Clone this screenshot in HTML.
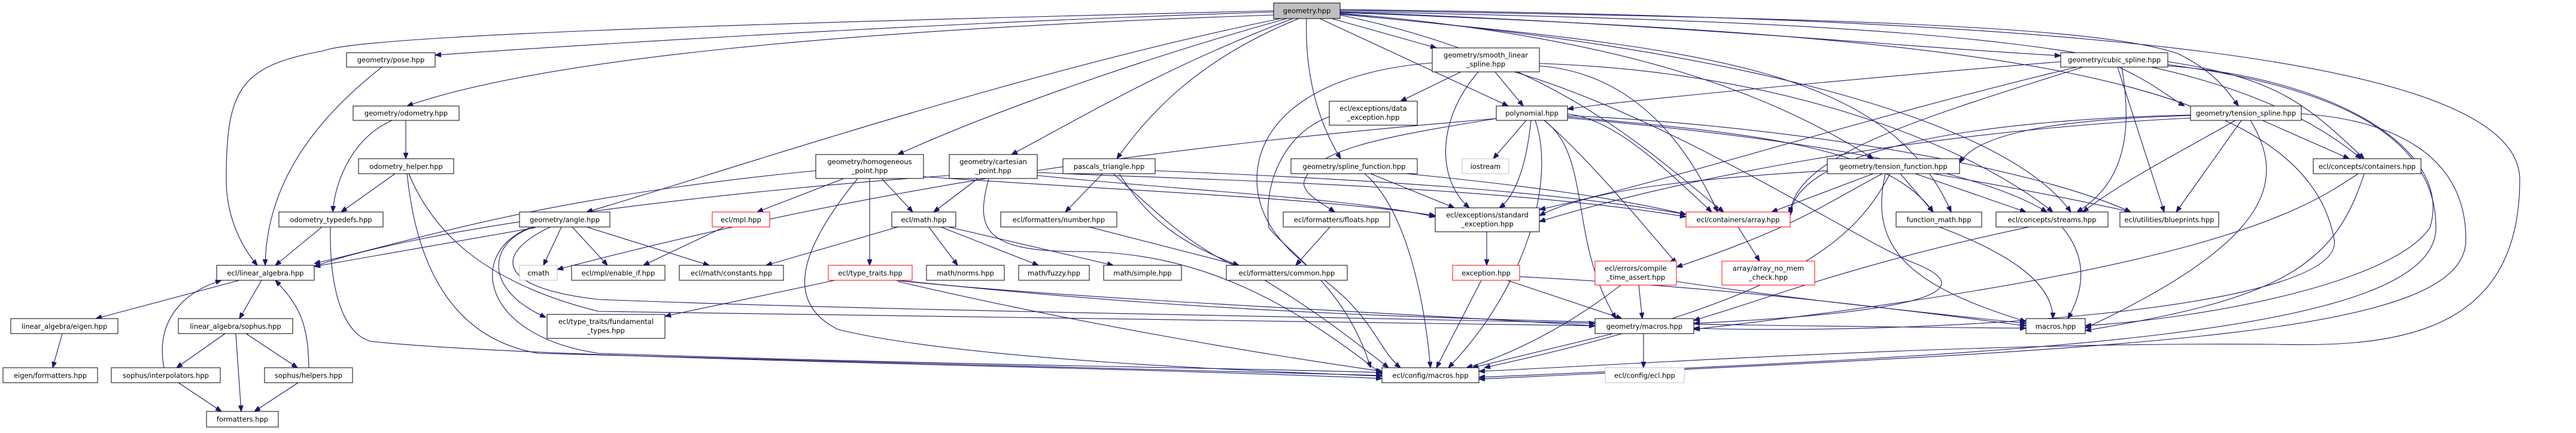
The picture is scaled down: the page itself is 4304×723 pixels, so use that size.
<!DOCTYPE html>
<html><head><meta charset="utf-8"><style>
html,body{margin:0;padding:0;background:#fff}
svg{display:block}
text{font-family:"DejaVu Sans","Liberation Sans",sans-serif;font-size:11.5px;fill:#000;text-anchor:middle}
.e{fill:none;stroke:#191970;stroke-width:1.1;marker-end:url(#a)}
.n{fill:#fff;stroke:#000;stroke-width:1}
.r{fill:#fff;stroke:#ff0000;stroke-width:1}
.g{fill:#fff;stroke:#bfbfbf;stroke-width:1}
</style></head><body>
<svg width="4304" height="723" viewBox="0 0 4304 723" xmlns="http://www.w3.org/2000/svg">
<defs><marker id="a" markerUnits="userSpaceOnUse" markerWidth="10" markerHeight="8" refX="10" refY="4" orient="auto"><path d="M0,0 L10,4 L0,8 z" fill="#191970" stroke="#191970"/></marker></defs>
<g>
<!-- geometry.hpp edges -->
<path class="e" d="M2128,20 C1500,40 900,80 727,92"/>
<path class="e" d="M2128,25 C1400,50 900,100 680,177"/>
<path class="e" d="M2128,18 C1200,40 600,60 540,85 C400,110 378,150 378,300 C378,370 410,420 430,443"/>
<path class="e" d="M2140,31 C1700,120 1200,290 980,354"/>
<path class="e" d="M2150,31 C1900,100 1650,190 1500,258"/>
<path class="e" d="M2160,31 C1950,110 1800,200 1690,258"/>
<path class="e" d="M2170,31 C2000,100 1920,190 1866,265"/>
<path class="e" d="M2183,31 C2180,120 2200,200 2240,265"/>
<path class="e" d="M2225,31 L2400,80"/>
<path class="e" d="M2205,31 L2520,177"/>
<path class="e" d="M2239,22 C2700,60 2950,150 3130,265"/>
<path class="e" d="M2239,20 C2800,40 3200,80 3443,93"/>
<path class="e" d="M2239,17 C3000,30 3500,40 3640,90 C3700,120 3720,150 3740,177"/>
<path class="e" d="M2239,25 C2600,100 2750,250 2880,354"/>
<path class="e" d="M2239,23 C2800,80 3150,100 3260,354"/>
<path class="e" d="M2239,24 C2900,80 3350,200 3460,354"/>
<path class="e" d="M2239,19 C3200,40 3700,60 3945,265"/>
<path class="e" d="M2239,16 C3500,30 4210,100 4210,300 C4210,560 4000,580 3800,575 C3300,570 2700,610 2471,620"/>
<path class="e" d="M2239,21 C3300,60 3850,120 3900,400 C3920,520 3200,560 2830,548"/>
<!-- left cluster -->
<path class="e" d="M638,112 C500,220 445,330 443,443"/>
<path class="e" d="M678,201 L678,265"/>
<path class="e" d="M655,201 C590,230 560,300 556,354"/>
<path class="e" d="M660,290 L570,354"/>
<path class="e" d="M680,290 C690,380 720,560 900,590 L2309,627"/>
<path class="e" d="M683,290 C720,380 800,470 1000,520 L2665,544"/>
<path class="e" d="M538,379 L460,443"/>
<path class="e" d="M552,379 C550,500 580,560 620,570 C900,600 1800,610 2309,632"/>
<path class="e" d="M400,468 L160,532"/>
<path class="e" d="M437,468 L400,532"/>
<path class="e" d="M104,557 L88,614"/>
<path class="e" d="M376,557 L295,614"/>
<path class="e" d="M394,557 L403,687"/>
<path class="e" d="M411,557 L497,614"/>
<path class="e" d="M298,639 L370,687"/>
<path class="e" d="M498,639 L425,687"/>
<path class="e" d="M274,614 C260,540 300,490 370,468"/>
<path class="e" d="M516,614 C515,540 500,510 460,468"/>
<!-- angle -->
<path class="e" d="M895,380 L525,445"/>
<path class="e" d="M938,379 L908,443"/>
<path class="e" d="M956,379 L1015,443"/>
<path class="e" d="M980,379 L1185,443"/>
<path class="e" d="M893,379 C820,400 800,480 912,530"/>
<path class="e" d="M920,379 C830,420 820,480 1000,500 C1500,520 2300,530 2665,540"/>
<path class="e" d="M886,380 C780,420 800,560 1000,590 C1600,610 2100,615 2309,622"/>
<!-- homogeneous -->
<path class="e" d="M1363,285 C900,330 700,400 525,440"/>
<path class="e" d="M1473,298 L1525,354"/>
<path class="e" d="M1453,298 L1453,443"/>
<path class="e" d="M1410,298 L1265,354"/>
<path class="e" d="M1543,295 C1900,320 2200,330 2398,360"/>
<path class="e" d="M1433,298 C1350,400 1300,500 1400,550 C1600,600 2100,620 2309,628"/>
<!-- cartesian -->
<path class="e" d="M1586,293 C1200,320 700,380 525,445"/>
<path class="e" d="M1634,298 L1560,354"/>
<path class="e" d="M1733,293 C2000,320 2250,330 2398,362"/>
<path class="e" d="M1652,298 C1630,380 1640,420 1800,420 C2000,420 2150,500 2309,625"/>
<path class="e" d="M1733,288 C2000,300 2500,310 2817,362"/>
<!-- pascals -->
<path class="e" d="M1842,290 L1780,354"/>
<path class="e" d="M1870,290 C1920,370 1980,410 2070,443"/>
<path class="e" d="M1930,285 C2300,300 2600,320 2817,358"/>
<path class="e" d="M1860,290 C1960,380 2000,420 2100,460 C2200,520 2250,560 2320,614"/>
<!-- ecl/math -->
<path class="e" d="M1500,379 L1280,443"/>
<path class="e" d="M1552,379 L1600,443"/>
<path class="e" d="M1572,379 L1735,443"/>
<path class="e" d="M1585,379 L1860,443"/>
<path class="e" d="M1210,379 L1075,443"/>
<path class="e" d="M1395,468 L1111,528"/>
<path class="e" d="M1495,468 C1800,500 2300,520 2665,544"/>
<path class="e" d="M1500,468 C2000,520 2400,540 3385,548"/>
<path class="e" d="M1500,470 C1800,540 2100,590 2309,620"/>
<path class="e" d="M1820,379 L2070,443"/>
<path class="e" d="M2222,379 L2165,443"/>
<!-- smooth linear -->
<path class="e" d="M2441,120 L2340,169"/>
<path class="e" d="M2498,120 L2545,177"/>
<path class="e" d="M2470,120 C2400,200 2400,300 2455,347"/>
<path class="e" d="M2530,120 C2800,200 3100,400 3200,440 C3300,480 3250,520 2830,540"/>
<path class="e" d="M2572,110 C2700,120 2800,200 2870,354"/>
<path class="e" d="M2572,106 C3000,120 3300,250 3430,354"/>
<path class="e" d="M2393,105 C2200,120 2100,200 2100,300 C2100,400 2200,450 2250,500 C2300,550 2310,590 2340,614"/>
<path class="e" d="M2221,195 C2150,220 2110,300 2120,380 C2150,420 2250,480 2290,614"/>
<!-- polynomial -->
<path class="e" d="M2550,201 L2495,265"/>
<path class="e" d="M2558,201 C2550,280 2530,330 2505,347"/>
<path class="e" d="M2565,201 C2600,300 2550,480 2420,614"/>
<path class="e" d="M2580,201 C2660,260 2620,400 2700,532"/>
<path class="e" d="M2500,198 C2300,230 2200,250 2180,300 C2170,320 2210,340 2230,354"/>
<path class="e" d="M2500,198 C2000,240 1500,300 931,450"/>
<path class="e" d="M2619,195 C2900,220 3150,240 3230,354"/>
<path class="e" d="M2619,190 C2700,200 2780,280 2860,354"/>
<path class="e" d="M2619,197 C3000,230 3300,280 3420,354"/>
<path class="e" d="M2619,193 C3000,210 3400,280 3560,354"/>
<path class="e" d="M2580,201 C2650,260 2750,380 2801,440"/>
<!-- spline function -->
<path class="e" d="M2290,290 L2430,347"/>
<path class="e" d="M2280,290 C2350,350 2380,500 2390,614"/>
<path class="e" d="M2350,290 C2550,310 2700,330 2817,358"/>
<path class="e" d="M2484,387 L2484,443"/>
<path class="e" d="M2475,468 L2400,614"/>
<path class="e" d="M2518,468 L2710,532"/>
<path class="e" d="M2539,462 C2900,480 3200,520 3385,544"/>
<path class="e" d="M2708,476 C2600,560 2500,600 2450,614"/>
<path class="e" d="M2738,476 L2744,532"/>
<path class="e" d="M2801,470 C3000,500 3200,520 3385,540"/>
<path class="e" d="M2746,557 L2746,614"/>
<path class="e" d="M2695,557 L2460,614"/>
<path class="e" d="M2904,379 L2940,436"/>
<!-- tension function -->
<path class="e" d="M3130,290 L2960,354"/>
<path class="e" d="M3175,290 L3230,354"/>
<path class="e" d="M3200,290 L3385,354"/>
<path class="e" d="M3230,290 C3400,320 3500,340 3560,354"/>
<path class="e" d="M3053,285 C2800,300 2650,320 2572,360"/>
<path class="e" d="M3145,290 C3050,340 3000,380 2801,446"/>
<path class="e" d="M3158,290 C3100,400 3000,500 2480,614"/>
<path class="e" d="M3150,290 C3120,420 3200,480 3385,537"/>
<path class="e" d="M3240,379 C3350,420 3430,470 3430,532"/>
<path class="e" d="M3445,379 C3480,420 3490,470 3455,532"/>
<path class="e" d="M3390,379 C3100,440 2950,500 2830,535"/>
<!-- cubic spline -->
<path class="e" d="M3443,103 C3000,140 2700,170 2619,182"/>
<path class="e" d="M3540,112 C3600,140 3620,160 3650,177"/>
<path class="e" d="M3622,103 C3800,130 3850,170 3950,265"/>
<path class="e" d="M3545,112 C3560,200 3560,300 3470,354"/>
<path class="e" d="M3538,112 L3616,354"/>
<path class="e" d="M3480,112 C3200,200 3000,260 2991,356"/>
<path class="e" d="M3470,112 C3100,200 2800,300 2572,350"/>
<path class="e" d="M3622,108 C3950,150 4070,250 4070,380 C4070,560 3400,590 2471,630"/>
<path class="e" d="M3622,110 C3900,130 4100,250 4060,380 C4000,470 3700,530 3484,544"/>
<!-- tension spline -->
<path class="e" d="M3780,201 L3925,265"/>
<path class="e" d="M3745,201 L3636,354"/>
<path class="e" d="M3735,201 C3650,250 3550,300 3480,354"/>
<path class="e" d="M3660,193 C3400,200 3300,230 3274,272"/>
<path class="e" d="M3660,197 C3200,220 2800,300 2572,370"/>
<path class="e" d="M3660,192 C3300,200 3000,250 2991,360"/>
<path class="e" d="M3760,201 C3820,300 3800,400 3484,548"/>
<path class="e" d="M3845,190 C4000,200 4120,260 4120,400 C4120,560 3600,580 2471,633"/>
<path class="e" d="M3940,290 C3850,350 3700,450 2830,550"/>
<path class="e" d="M3950,290 C3900,450 3800,500 3484,552"/>
</g>
<!-- nodes -->
<rect x="2128" y="5" width="111" height="26" fill="#bfbfbf" stroke="#000"/><text x="2183.5" y="22">geometry.hpp</text>
<rect class="n" x="579" y="88" width="148" height="24"/><text x="653" y="104">geometry/pose.hpp</text>
<rect class="n" x="590" y="177" width="177" height="24"/><text x="678.5" y="193">geometry/odometry.hpp</text>
<rect class="n" x="599" y="265" width="159" height="25"/><text x="678.5" y="282">odometry_helper.hpp</text>
<rect class="n" x="466" y="354" width="174" height="25"/><text x="553" y="371">odometry_typedefs.hpp</text>
<rect class="n" x="362" y="443" width="163" height="25"/><text x="443.5" y="460">ecl/linear_algebra.hpp</text>
<rect class="n" x="18" y="532" width="179" height="25"/><text x="107.5" y="549">linear_algebra/eigen.hpp</text>
<rect class="n" x="298" y="532" width="191" height="25"/><text x="393.5" y="549">linear_algebra/sophus.hpp</text>
<rect class="n" x="5" y="614" width="158" height="25"/><text x="84" y="631">eigen/formatters.hpp</text>
<rect class="n" x="186" y="614" width="182" height="25"/><text x="277" y="631">sophus/interpolators.hpp</text>
<rect class="n" x="442" y="614" width="147" height="25"/><text x="515.5" y="631">sophus/helpers.hpp</text>
<rect class="n" x="345" y="687" width="120" height="26"/><text x="405" y="704">formatters.hpp</text>
<rect class="n" x="868" y="354" width="151" height="25"/><text x="943.5" y="371">geometry/angle.hpp</text>
<rect class="g" x="868" y="443" width="63" height="25"/><text x="899.5" y="460">cmath</text>
<rect class="n" x="955" y="443" width="156" height="25"/><text x="1033" y="460">ecl/mpl/enable_if.hpp</text>
<rect class="n" x="1135" y="443" width="174" height="25"/><text x="1222" y="460">ecl/math/constants.hpp</text>
<rect class="r" x="1190" y="354" width="96" height="25"/><text x="1238" y="371">ecl/mpl.hpp</text>
<rect class="n" x="914" y="525" width="197" height="40"/><text x="1012.5" y="541">ecl/type_traits/fundamental</text><text x="1012.5" y="556">_types.hpp</text>
<rect class="n" x="1363" y="258" width="180" height="40"/><text x="1453" y="274">geometry/homogeneous</text><text x="1453" y="289">_point.hpp</text>
<rect class="r" x="1384" y="443" width="140" height="25"/><text x="1454" y="460">ecl/type_traits.hpp</text>
<rect class="n" x="1586" y="258" width="147" height="40"/><text x="1659.5" y="274">geometry/cartesian</text><text x="1659.5" y="289">_point.hpp</text>
<rect class="n" x="1776" y="265" width="154" height="25"/><text x="1853" y="282">pascals_triangle.hpp</text>
<rect class="n" x="1490" y="354" width="107" height="25"/><text x="1543.5" y="371">ecl/math.hpp</text>
<rect class="n" x="1672" y="354" width="194" height="25"/><text x="1769" y="371">ecl/formatters/number.hpp</text>
<rect class="n" x="1548" y="443" width="130" height="25"/><text x="1613" y="460">math/norms.hpp</text>
<rect class="n" x="1702" y="443" width="118" height="25"/><text x="1761" y="460">math/fuzzy.hpp</text>
<rect class="n" x="1844" y="443" width="130" height="25"/><text x="1909" y="460">math/simple.hpp</text>
<rect class="n" x="2049" y="443" width="202" height="25"/><text x="2150" y="460">ecl/formatters/common.hpp</text>
<rect class="n" x="2393" y="80" width="179" height="40"/><text x="2482.5" y="96">geometry/smooth_linear</text><text x="2482.5" y="111">_spline.hpp</text>
<rect class="n" x="2221" y="169" width="147" height="40"/><text x="2294.5" y="185">ecl/exceptions/data</text><text x="2294.5" y="200">_exception.hpp</text>
<rect class="n" x="2500" y="177" width="119" height="24"/><text x="2559.5" y="193">polynomial.hpp</text>
<rect class="n" x="2157" y="265" width="211" height="25"/><text x="2262.5" y="282">geometry/spline_function.hpp</text>
<rect class="g" x="2443" y="265" width="78" height="25"/><text x="2482" y="282">iostream</text>
<rect class="n" x="2144" y="354" width="178" height="25"/><text x="2233" y="371">ecl/formatters/floats.hpp</text>
<rect class="n" x="2398" y="347" width="174" height="40"/><text x="2485" y="363">ecl/exceptions/standard</text><text x="2485" y="378">_exception.hpp</text>
<rect class="r" x="2427" y="443" width="112" height="25"/><text x="2483" y="460">exception.hpp</text>
<rect class="r" x="2665" y="436" width="136" height="40"/><text x="2733" y="452">ecl/errors/compile</text><text x="2733" y="467">_time_assert.hpp</text>
<rect class="n" x="2665" y="532" width="165" height="25"/><text x="2747.5" y="549">geometry/macros.hpp</text>
<rect class="n" x="2309" y="614" width="162" height="25"/><text x="2390" y="631">ecl/config/macros.hpp</text>
<rect class="g" x="2682" y="614" width="132" height="25"/><text x="2748" y="631">ecl/config/ecl.hpp</text>
<rect class="n" x="3443" y="88" width="179" height="24"/><text x="3532.5" y="104">geometry/cubic_spline.hpp</text>
<rect class="n" x="3053" y="265" width="221" height="25"/><text x="3163.5" y="282">geometry/tension_function.hpp</text>
<rect class="r" x="2817" y="354" width="174" height="25"/><text x="2904" y="371">ecl/containers/array.hpp</text>
<rect class="n" x="3168" y="354" width="143" height="25"/><text x="3239.5" y="371">function_math.hpp</text>
<rect class="n" x="3335" y="354" width="187" height="25"/><text x="3428.5" y="371">ecl/concepts/streams.hpp</text>
<rect class="r" x="2877" y="436" width="155" height="40"/><text x="2954.5" y="452">array/array_no_mem</text><text x="2954.5" y="467">_check.hpp</text>
<rect class="n" x="3385" y="532" width="99" height="25"/><text x="3434.5" y="549">macros.hpp</text>
<rect class="n" x="3660" y="177" width="185" height="24"/><text x="3752.5" y="193">geometry/tension_spline.hpp</text>
<rect class="n" x="3865" y="265" width="180" height="25"/><text x="3955" y="282">ecl/concepts/containers.hpp</text>
<rect class="n" x="3542" y="354" width="165" height="25"/><text x="3624.5" y="371">ecl/utilities/blueprints.hpp</text>
</svg>
</body></html>
